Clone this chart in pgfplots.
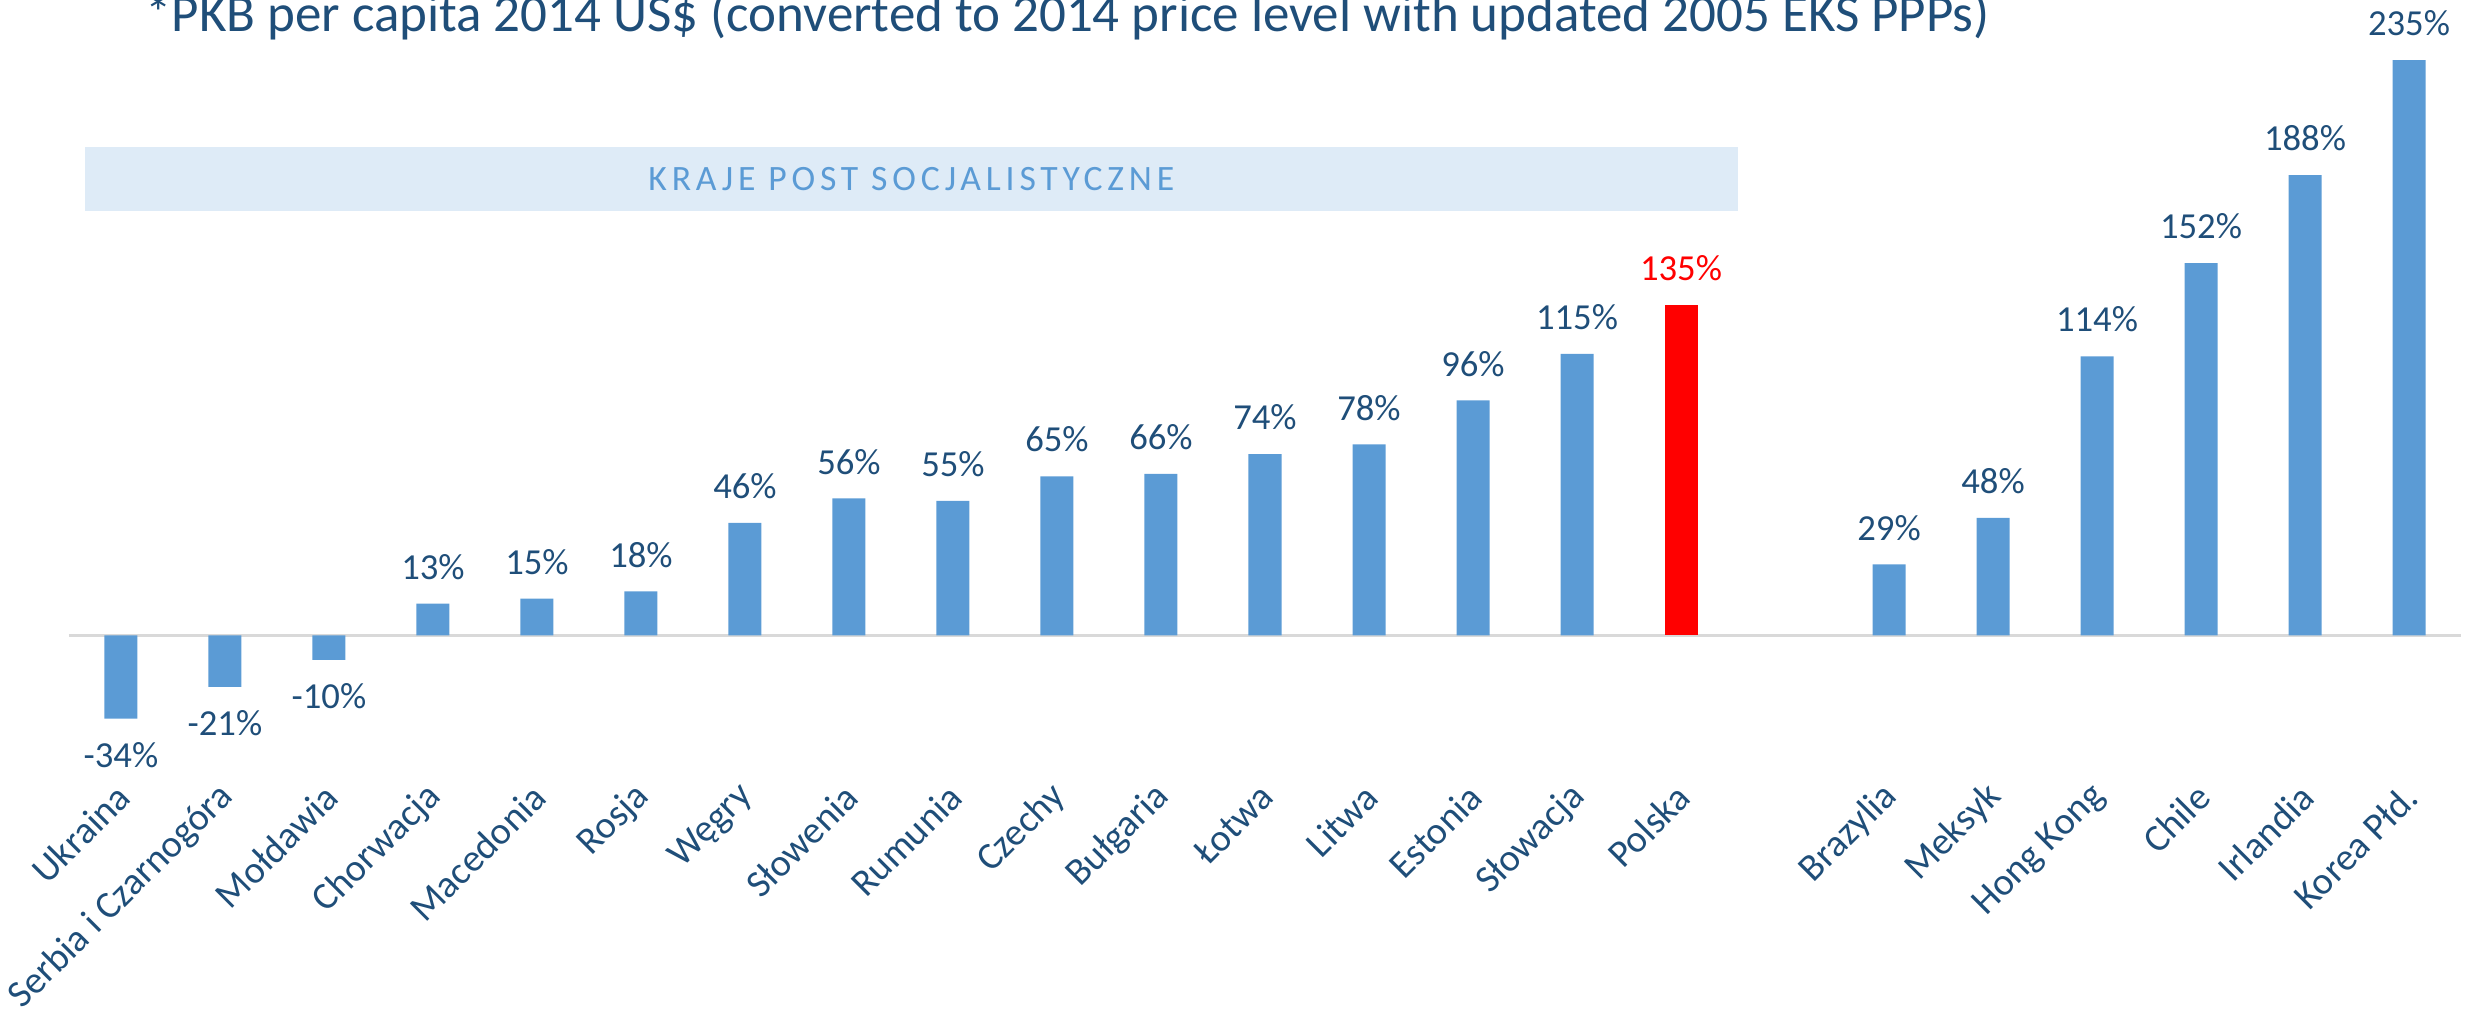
\documentclass[border=0pt]{standalone}
\usepackage{pgfplots}
\pgfplotsset{compat=1.18}
\usepackage{pgfplotstable}
\usepackage{fontspec}
\setmainfont{Carlito}
\newfontfamily\spaced[LetterSpace=13.5]{Carlito}
\definecolor{barblue}{HTML}{5B9BD5}
\definecolor{barred}{HTML}{FF0000}
\definecolor{txtblue}{HTML}{1F4E79}
\definecolor{bannerbg}{HTML}{DEEBF7}
\definecolor{zeroline}{HTML}{D9D9D9}

\pgfplotstableread{
x y l
0 -34 -34
1 -21 -21
2 -10 -10
}\negdata

\pgfplotstableread{
x y l
3 13 13
4 15 15
5 18 18
6 46 46
7 56 56
8 55 55
9 65 65
10 66 66
11 74 74
12 78 78
13 96 96
14 115 115
17 29 29
18 48 48
19 114 114
20 152 152
21 188 188
22 235 235
}\posdata

\pgfplotstableread{
x y l
15 135 135
}\reddata

\begin{document}
\begin{tikzpicture}
\begin{axis}[
  scale only axis,
  width=717.6pt, height=240.2pt,
  xmin=-0.5, xmax=22.5,
  ymin=-67, ymax=260,
  clip=false,
  axis line style={draw=none},
  tick style={draw=none},
  ytick=\empty,
  xtick={0,1,2,3,4,5,6,7,8,9,10,11,12,13,14,15,17,18,19,20,21,22},
  xticklabels={Ukraina,Serbia i Czarnogóra,Mołdawia,Chorwacja,Macedonia,Rosja,Węgry,Słowenia,Rumunia,Czechy,Bułgaria,Łotwa,Litwa,Estonia,Słowacja,Polska,Brazylia,Meksyk,Hong Kong,Chile,Irlandia,Korea Płd.},
  xticklabel style={rotate=45, anchor=east, inner sep=0pt, xshift=5.5pt, yshift=4.3pt, font=\fontsize{11.5}{13}\selectfont, text=txtblue},
  ybar, bar width=9.9pt, bar shift=0pt,
  point meta=explicit symbolic,
  nodes near coords={\pgfplotspointmeta\%},
  every node near coord/.append style={font=\fontsize{11}{13}\selectfont, inner xsep=0pt, inner ysep=7pt},
]
\fill[bannerbg] (axis cs:-0.346,173.3) rectangle (axis cs:15.55,199.4);
\node[text=barblue, font=\spaced\fontsize{10.7}{12}\selectfont] at (axis cs:7.6,186.35) {KRAJE POST SOCJALISTYCZNE};
\node[text=txtblue, font=\fontsize{15.9}{18}\selectfont, anchor=base] at (axis cs:9.10,246.8) {*PKB per capita 2014 US\$ (converted to 2014 price level with updated 2005 EKS PPPs)};
\draw[zeroline, line width=0.9pt] (axis cs:-0.5,0) -- (axis cs:22.5,0);
\addplot[fill=barblue, draw=none, every node near coord/.append style={text=txtblue, anchor=south}] table[x=x, y=y, meta=l] {\posdata};
\addplot[fill=barblue, draw=none, every node near coord/.append style={text=txtblue, anchor=north}] table[x=x, y=y, meta=l] {\negdata};
\addplot[fill=barred, draw=none, every node near coord/.append style={text=barred, anchor=south}] table[x=x, y=y, meta=l] {\reddata};
\coordinate (BL) at (axis cs:-1.163,-153.7);
\coordinate (TR) at (axis cs:22.596,259.5);
\end{axis}
\pgfresetboundingbox
\useasboundingbox (BL) rectangle (TR);
\end{tikzpicture}
\end{document}
